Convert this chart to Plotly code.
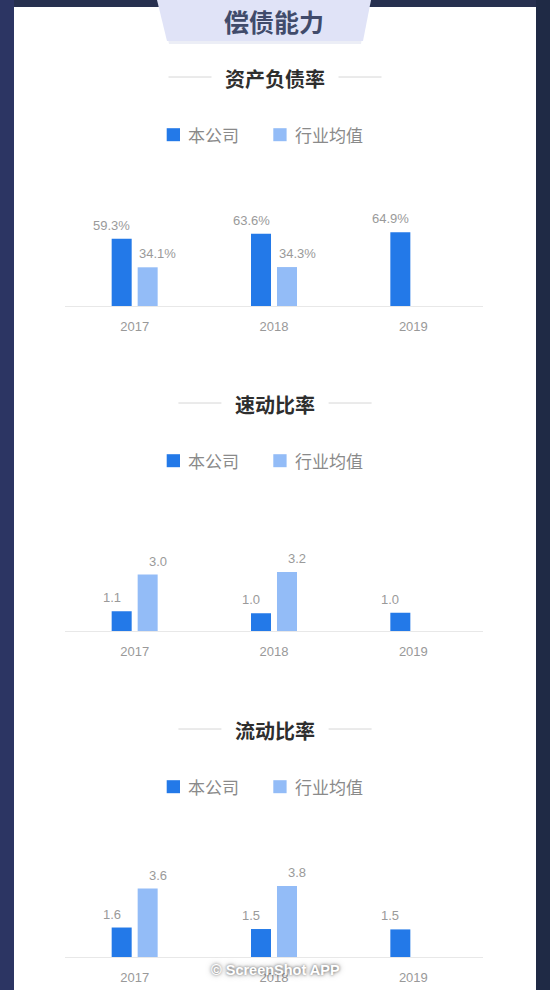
import plotly.graph_objects as go

# ---------------- data ----------------
HEADER = "偿债能力"
TITLES = ["资产负债率", "速动比率", "流动比率"]
SERIES = ["本公司", "行业均值"]
COLORS = ["#2379E8", "#93BCF7"]
YEARS = ["2017", "2018", "2019"]

DEBT_CO = [59.3, 63.6, 64.9]
DEBT_IND = [34.1, 34.3, None]
QUICK_CO = [1.06, 0.96, 0.99]
QUICK_IND = [3.04, 3.18, None]
CURR_CO = [1.56, 1.48, 1.46]
CURR_IND = [3.62, 3.76, None]
WATERMARK = "© ScreenShot APP"

CHARTS = [
    (DEBT_CO, DEBT_IND, "{:.1f}%"),
    (QUICK_CO, QUICK_IND, "{:.1f}"),
    (CURR_CO, CURR_IND, "{:.1f}"),
]

# ---------------- layout helpers (pixels -> paper) ----------------
W, H = 550, 990
def px(x):
    return x / W
def py(y):
    return 1 - y / H

BASE = [306, 631, 957]        # baseline pixel of each chart
SCALE = [1.135, 18.55, 18.9]  # pixels per unit
YMAX = [80, 4.5, 4.5]
TITLE_Y = [78.5, 404.5, 730.5]
LEGEND_Y = [134.7, 460.7, 786.7]
X0, X1 = 65, 483

fig = go.Figure()
shapes = []
annotations = []

# background card
shapes.append(dict(type="rect", xref="paper", yref="paper", x0=0, x1=px(14), y0=0, y1=1,
                   fillcolor="#2C3563", line_width=0, layer="below"))
shapes.append(dict(type="rect", xref="paper", yref="paper", x0=px(536), x1=1, y0=0, y1=1,
                   fillcolor="#1F2A45", line_width=0, layer="below"))
shapes.append(dict(type="rect", xref="paper", yref="paper", x0=px(14), x1=px(536), y0=0, y1=py(7),
                   fillcolor="#FFFFFF", line_width=0, layer="below"))
# header tab (soft shadow + body)
shadow = "M {},{} L {},{} L {},{} L {},{} Z".format(px(160), py(0), px(368), py(0), px(361), py(44), px(169), py(44))
shapes.append(dict(type="path", xref="paper", yref="paper", path=shadow,
                   fillcolor="rgba(200,205,230,0.35)", line_width=0, layer="below"))
tab = "M {},{} L {},{} L {},{} L {},{} Z".format(px(157), py(0), px(371), py(0), px(363), py(41), px(167), py(41))
shapes.append(dict(type="path", xref="paper", yref="paper", path=tab,
                   fillcolor="#E0E3F7", line_width=0, layer="below"))
annotations.append(dict(text="<b>" + HEADER + "</b>", x=px(274), y=py(21.5), xref="paper", yref="paper",
                        showarrow=False, xanchor="center", yanchor="middle",
                        font=dict(family="Noto Sans CJK SC", size=25, color="#414B6B")))

for i, (co, ind, fmt) in enumerate(CHARTS):
    k = "" if i == 0 else str(i + 1)
    xa, ya = "x" + k, "y" + k
    for s, vals in enumerate([co, ind]):
        fig.add_trace(go.Bar(x=YEARS, y=vals, name=SERIES[s], marker_color=COLORS[s],
                             marker_line_width=0, xaxis=xa, yaxis=ya, showlegend=False,
                             hoverinfo="skip"))
        for j, v in enumerate(vals):
            if v is None:
                continue
            annotations.append(dict(text=fmt.format(v), x=j, y=v, xref=xa, yref=ya,
                                    showarrow=False, xanchor="center", yanchor="bottom",
                                    xshift=-23 if s == 0 else 23, yshift=4,
                                    font=dict(family="Liberation Sans", size=13, color="#9A9A9A")))
    base = BASE[i]
    top = base - SCALE[i] * YMAX[i]
    fig.update_layout(**{
        "xaxis" + k: dict(domain=[px(X0), px(X1)], type="category", anchor=ya,
                          range=[-0.5, len(YEARS) - 0.5],
                          showline=True, linecolor="#E8E8E8", linewidth=1, showgrid=False,
                          zeroline=False, ticks="", ticklabelstandoff=8, fixedrange=True,
                          tickfont=dict(family="Liberation Sans", size=13, color="#999999")),
        "yaxis" + k: dict(domain=[py(base), py(top)], range=[0, YMAX[i]], anchor=xa,
                          showgrid=False, zeroline=False, showticklabels=False, showline=False,
                          fixedrange=True),
    })
    # section title with side lines
    c = 275
    half = len(TITLES[i]) * 19.8 / 2
    ty = TITLE_Y[i]
    annotations.append(dict(text="<b>" + TITLES[i] + "</b>", x=px(c), y=py(ty), xref="paper", yref="paper",
                            showarrow=False, xanchor="center", yanchor="middle",
                            font=dict(family="Noto Sans CJK SC", size=20, color="#2E2E2E")))
    for x0, x1 in [(c - half - 57, c - half - 14), (c + half + 14, c + half + 57)]:
        shapes.append(dict(type="line", xref="paper", yref="paper", x0=px(x0), x1=px(x1),
                           y0=py(ty - 1.5), y1=py(ty - 1.5), line=dict(color="#D6D6D6", width=1)))
    # legend
    ly = LEGEND_Y[i]
    for s, (sx, tx) in enumerate([(166.7, 186.2), (273.3, 292.8)]):
        shapes.append(dict(type="rect", xref="paper", yref="paper", x0=px(sx), x1=px(sx + 13.3),
                           y0=py(ly + 6.5), y1=py(ly - 6.5), fillcolor=COLORS[s], line_width=0))
        annotations.append(dict(text=SERIES[s], x=px(tx), y=py(ly), xref="paper", yref="paper",
                                showarrow=False, xanchor="left", yanchor="middle",
                                font=dict(family="Noto Sans CJK SC", size=17, color="#8A8A8A")))

annotations.append(dict(text="<b>" + WATERMARK + "</b>", x=px(275), y=py(970), xref="paper", yref="paper",
                        showarrow=False, xanchor="center", yanchor="middle",
                        font=dict(family="Liberation Sans", size=14.5, color="#FFFFFF",
                                  shadow="0px 0px 3px rgba(0,0,0,0.55), 0px 0px 6px rgba(0,0,0,0.35)")))

fig.update_layout(width=W, height=H, margin=dict(l=0, r=0, t=0, b=0),
                  paper_bgcolor="#27304F", plot_bgcolor="rgba(0,0,0,0)",
                  barmode="group", bargap=0.627, bargroupgap=0.23,
                  shapes=shapes, annotations=annotations, showlegend=False)

fig.write_html("out.html", config={"displayModeBar": False},
               post_script="document.body.style.margin='0';document.body.style.overflow='hidden';")
